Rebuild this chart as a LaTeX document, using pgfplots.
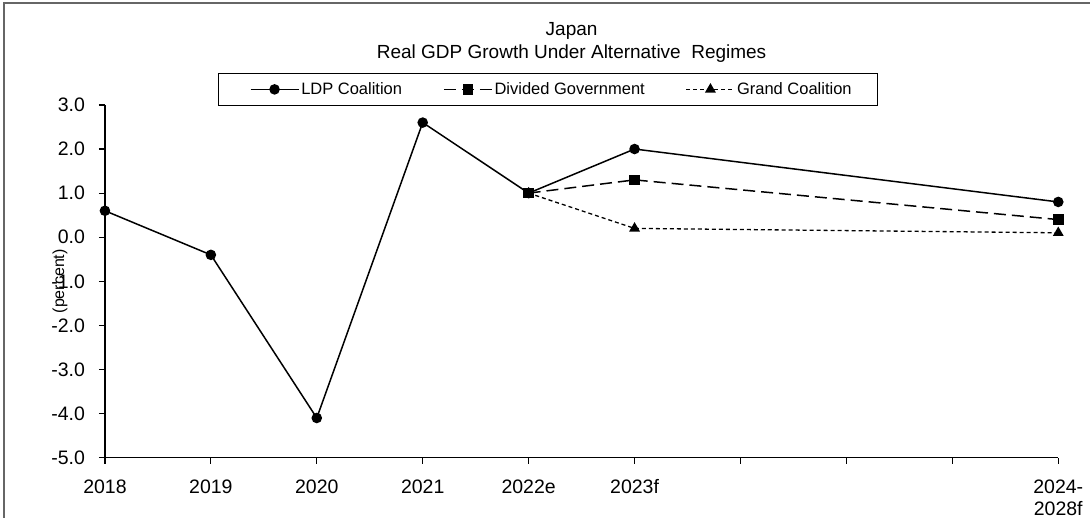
\documentclass[border=0pt]{standalone}
\usepackage{pgfplots}
\pgfplotsset{compat=1.18}
\usepackage{fontspec}
\setmainfont{Liberation Sans}

\pgfplotstableread{
x y
0 0.6
1 -0.4
2 -4.1
3 2.6
4 1.0
5 2.0
9 0.8
}\ldp
\pgfplotstableread{
x y
4 1.0
5 1.3
9 0.4
}\divided
\pgfplotstableread{
x y
4 1.0
5 0.2
9 0.1
}\grand

\begin{document}
\begin{tikzpicture}[x=1pt,y=1pt]
\path (0,0) rectangle (1091,518);
\draw[gray!80!black, line width=1.5pt] (4,0) -- (4,515) -- (1091,515);
\node[align=center, font=\fontsize{19}{23}\selectfont] at (572,476) {Japan\\Real GDP Growth Under Alternative\ \ Regimes};
\begin{axis}[
  at={(105pt,60pt)}, anchor=south west,
  scale only axis, width=954pt, height=353pt,
  xmin=0, xmax=9, ymin=-5, ymax=3,
  axis x line*=bottom, axis y line*=left,
  axis line style={line width=1.2pt},
  tick style={line width=1.2pt, black},
  tick align=outside, major tick length=6pt,
  xtick={0,1,2,3,4,5,6,7,8,9},
  xticklabels={2018,2019,2020,2021,2022e,2023f,,,,{\begin{tabular}[t]{@{}c@{}}2024-\\2028f\end{tabular}}},
  xticklabel style={anchor=base, yshift=-30pt, font=\fontsize{19.5}{22}\selectfont},
  ytick={-5,-4,-3,-2,-1,0,1,2,3},
  yticklabel style={xshift=-10.5pt, font=\fontsize{19.5}{22}\selectfont, /pgf/number format/.cd, fixed, fixed zerofill, precision=1},
  /pgf/number format/assume math mode=true,
  ylabel={(percent)},
  ylabel style={at={(axis description cs:0,0.5)}, anchor=center, yshift=45pt, font=\fontsize{16}{19}\selectfont},
  legend columns=3,
  legend style={at={(axis description cs:0.465,0.997)}, anchor=south, draw=black, line width=0.8pt,
    font=\fontsize{16.5}{19}\selectfont, inner xsep=24pt, inner ysep=7.5pt,
    /tikz/every even column/.append style={column sep=32pt}},
  legend image code/.code={\path (0pt,0pt); \draw[#1, mark repeat=2, mark phase=2] plot coordinates {(7pt,0pt) (31pt,0pt) (55pt,0pt)};},
  every axis plot/.append style={line width=1.5pt, black},
]
\addplot[mark=*, mark size=4.5pt, mark options={solid}] table {\ldp};
\addlegendentry{LDP Coalition}
\addplot[mark=square*, mark size=4.5pt, dash pattern=on 12pt off 6pt, mark options={solid}] table {\divided};
\addlegendentry{Divided Government}
\addplot[mark=triangle*, mark size=5pt, dash pattern=on 4pt off 3pt, line width=1.3pt, mark options={solid}] table {\grand};
\addlegendentry{Grand Coalition}
\end{axis}
\end{tikzpicture}
\end{document}
